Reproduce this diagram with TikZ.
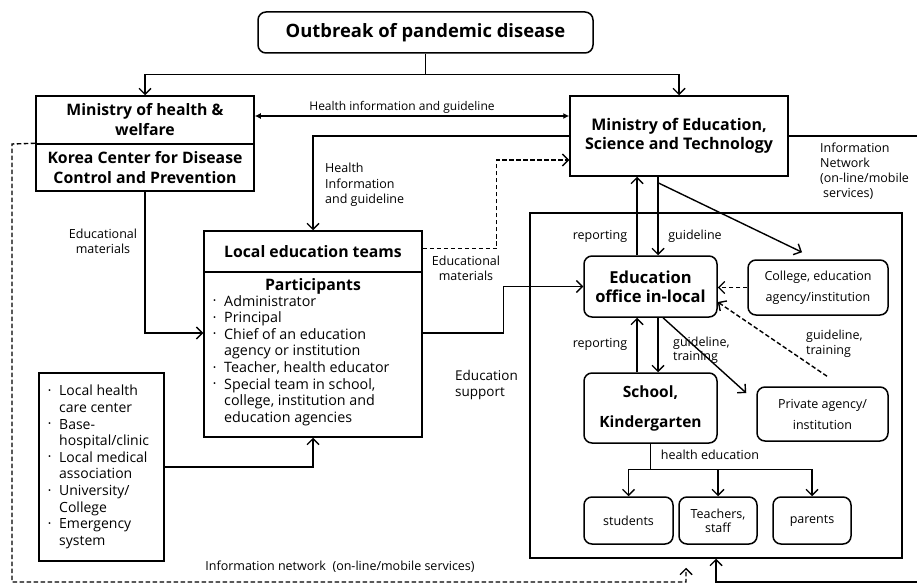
\documentclass[tikz,border=0pt]{standalone}
\usepackage{fontspec}
\setmainfont{Open Sans}
\usetikzlibrary{arrows.meta,calc}
\newcommand\mybul{\makebox[11pt][l]{\raisebox{0.3ex}{\fontsize{8}{8}\selectfont\textbullet}}}
\newcommand\myind{\hspace*{11pt}}
\begin{document}
\begin{tikzpicture}[x=1pt,y=-1pt,
  ln/.style={line width=1.4pt},
  arr/.style={ln,-{Straight Barb[length=6pt,width=12pt,line width=1.4pt]}},
  darr/.style={arr,dash pattern=on 4.5pt off 2.5pt},
  bx/.style={draw,line width=1.5pt,inner sep=0pt,align=center},
  rbx/.style={bx,rounded corners=8pt},
  hd/.style={font=\bfseries\fontsize{15.8}{20}\selectfont},
  sm/.style={font=\fontsize{12.5}{21}\selectfont},
  lbl/.style={font=\fontsize{12.5}{15.5}\selectfont,inner sep=0pt,align=left},
  lst/.style={font=\fontsize{14.3}{16.6}\selectfont,inner sep=0pt,align=left},
]
\useasboundingbox (0,0) rectangle (917,585);
\fill[white] (0,0) rectangle (917,585);
% nodes
\node[rbx,minimum width=335pt,minimum height=41pt,font=\bfseries\fontsize{18.4}{20}\selectfont] (outbreak) at (425.5,32.5) {Outbreak of pandemic disease};
\node[bx,hd,minimum width=218pt,minimum height=48pt] (mhw) at (145,120) {Ministry of health \&\\welfare};
\node[bx,hd,minimum width=218pt,minimum height=47pt] (kcdc) at (145,167.5) {Korea Center for Disease\\Control and Prevention};
\node[bx,font=\bfseries\fontsize{16}{19}\selectfont,minimum width=218pt,minimum height=80pt] (mest) at (679,136) {Ministry of Education,\\Science and Technology};
\node[bx,hd,minimum width=218pt,minimum height=41pt] (lethead) at (313,251.5) {Local education teams};
\node[bx,minimum width=218pt,minimum height=165pt] (letbody) at (313,354.5) {};
\node[hd,inner sep=0pt] (part) at (313,286) {Participants};
\node[lst,anchor=north west] (plist) at (213,295) {\mybul Administrator\\\mybul Principal\\\mybul Chief of an education\\\myind agency or institution\\\mybul Teacher, health educator\\\mybul Special team in school,\\\myind college, institution and\\\myind education agencies};
\node[bx,minimum width=125pt,minimum height=188pt] (lhc) at (101.5,467) {};
\node[lst,font=\fontsize{14}{16.6}\selectfont,anchor=north west] (lhclist) at (48,385) {\mybul Local health\\\myind care center\\\mybul Base-\\\myind hospital/clinic\\\mybul Local medical\\\myind association\\\mybul University/\\\myind College\\\mybul Emergency\\\myind system};
\node[bx,minimum width=372pt,minimum height=345pt] (region) at (716,385.5) {};
\node[rbx,font=\bfseries\fontsize{16.5}{19}\selectfont,minimum width=133pt,minimum height=61pt] (eo) at (650.5,286.5) {Education\\office in-local};
\node[rbx,sm,minimum width=140pt,minimum height=55pt] (college) at (818,287.5) {College, education\\agency/institution};
\node[rbx,font=\bfseries\fontsize{15.5}{30}\selectfont,minimum width=133pt,minimum height=70pt] (school) at (650.5,408) {School,\\Kindergarten};
\node[rbx,sm,minimum width=131pt,minimum height=54pt] (private) at (822.5,414) {Private agency/\\institution};
\node[rbx,sm,minimum width=89pt,minimum height=47pt] (students) at (628.5,520.5) {students};
\node[rbx,font=\fontsize{12.5}{14}\selectfont,minimum width=78pt,minimum height=47pt] (teachers) at (718,520.5) {Teachers,\\staff};
\node[rbx,sm,minimum width=78pt,minimum height=47pt] (parents) at (812,520.5) {parents};
% labels
\node[lbl,font=\fontsize{12}{15}\selectfont] (l1) at (402,107) {Health information and guideline};
\node[lbl,anchor=west] (l2) at (325,185) {Health\\Information\\and guideline};
\node[lbl,font=\fontsize{12.5}{15}\selectfont,anchor=west] (l3) at (820,171) {Information\\Network\\(on-line/mobile\\\hspace*{3pt}services)};
\node[lbl,align=center] (l4) at (103,241.5) {Educational\\materials};
\node[lbl,align=center] (l5) at (466,268.5) {Educational\\materials};
\node[lbl,font=\fontsize{13.5}{16}\selectfont,anchor=west] (l6) at (455,385) {Education\\support};
\node[lbl] (l7) at (600,236) {reporting};
\node[lbl] (l8) at (695,236) {guideline};
\node[lbl] (l9) at (600,344) {reporting};
\node[lbl,font=\fontsize{12.5}{14}\selectfont,anchor=west] (l10) at (673,350) {guideline,\\training};
\node[lbl,font=\fontsize{12.5}{15}\selectfont,anchor=west] (l11) at (806,343.5) {guideline,\\training};
\node[lbl] (l12) at (710,455) {health education};
\node[lbl,font=\fontsize{12.5}{14}\selectfont] (l13) at (340,567) {Information network\ \ (on-line/mobile services)};
% connectors
\draw[ln] (outbreak.south) -- ++(0,21) coordinate (split);
\draw[arr] (split) -| (mhw.north);
\draw[arr] (split) -| (mest.north);
\draw[ln,{Latex[length=6pt,width=6pt]}-{Latex[length=6pt,width=6pt]}] ([yshift=4pt]mhw.east) -- ([yshift=20pt]mest.west);
\draw[arr] (mest.west) -| (lethead.north);
\draw[darr] ([yshift=3pt]lethead.east) -- ++(74,0) |- ([yshift=-24pt]mest.west);
\draw[arr] (kcdc.south) |- ([yshift=21.5pt]letbody.west);
\draw[arr] (lhc.east) -| (letbody.south);
\draw[arr] ([yshift=21.5pt]letbody.east) -- ++(81,0) |- (eo.west);
\coordinate (r1) at ([xshift=-13.5pt]eo.north);
\coordinate (g1) at ([xshift=7.5pt]eo.north);
\draw[arr] (r1) -- (r1 |- mest.south);
\draw[arr] (g1 |- mest.south) -- (g1);
\coordinate (gsplit) at ([yshift=-6pt]g1 |- mest.south);
\draw[arr] (gsplit) -- ([xshift=-16pt,yshift=7pt]college.north);
\draw[darr] (college.west) -- (eo.east |- college.west);
\draw[darr] ([xshift=4.5pt,yshift=10pt]private.north) -- ([yshift=-15.5pt]eo.east);
\coordinate (r2) at ([xshift=-13.5pt]school.north);
\coordinate (g2) at ([xshift=7.5pt]school.north);
\draw[arr] (r2) -- (r2 |- eo.south);
\draw[arr] (g2 |- eo.south) -- (g2);
\draw[arr] ([xshift=12.5pt]eo.south) -- ([xshift=-10pt,yshift=21pt]private.west);
\coordinate (he) at ([yshift=-26pt]school.south);
\draw[ln] (school.south) -- (he);
\draw[arr] (he) -| (students.north);
\draw[arr] (he) -| (teachers.north);
\draw[arr] (he) -| (parents.north);
\coordinate (ne) at (918,136);
\coordinate (se) at (918,582);
\draw[arr] (mest.east) -- (ne) -- (se) -| (region.south);
\coordinate (nw) at (12,144);
\coordinate (sw) at (12,582);
\draw[darr] (kcdc.north west) -- (nw) -- (sw) -| ([xshift=-30pt,yshift=-9pt]region.south);
\end{tikzpicture}
\end{document}
